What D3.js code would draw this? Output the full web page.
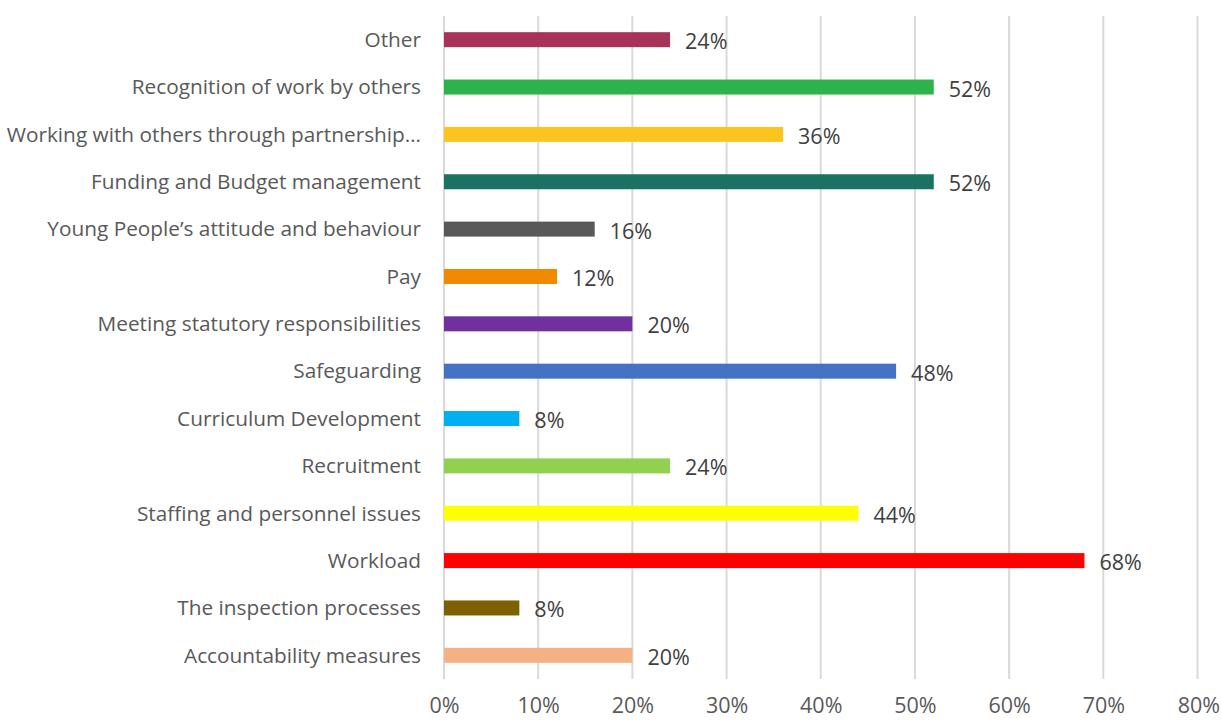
<!DOCTYPE html>
<html><head><meta charset="utf-8">
<script src="https://cdn.jsdelivr.net/npm/d3@7"></script>
<style>
html,body{margin:0;padding:0;background:#fff;}
svg{display:block;}
text{font-family:"Open Sans",sans-serif;}
</style></head>
<body>
<svg id="chart" width="1221" height="720"></svg>
<script>
const categories = [
  "Other",
  "Recognition of work by others",
  "Working with others through partnership…",
  "Funding and Budget management",
  "Young People’s attitude and behaviour",
  "Pay",
  "Meeting statutory responsibilities",
  "Safeguarding",
  "Curriculum Development",
  "Recruitment",
  "Staffing and personnel issues",
  "Workload",
  "The inspection processes",
  "Accountability measures"
];
const values = [24, 52, 36, 52, 16, 12, 20, 48, 8, 24, 44, 68, 8, 20];
const colors = ["#A8335A","#2EB34B","#FBC41E","#1C7262","#595959","#F08A00","#7030A0",
                "#4472C4","#00B0F0","#92D050","#FFFF00","#FF0000","#7F6000","#F4B183"];
const xTicks = [0,10,20,30,40,50,60,70,80];

(function(){
const svg = d3.select("#chart");
const FONT = "'Open Sans', sans-serif";
const FS_CAT = 20.8, FS_NUM = 21.5;
const pLeft = 444, pRight = 1197.5, pTop = 16, pBottom = 679;
const x = d3.scaleLinear().domain([0,80]).range([pLeft,pRight]);
const p = 1 - 15/((pBottom-pTop)/categories.length);
const y = d3.scaleBand().domain(categories).range([pTop,pBottom]).paddingInner(p).paddingOuter(p/2);

svg.append("g").selectAll("line").data(xTicks).join("line")
  .attr("x1", d=>x(d)).attr("x2", d=>x(d))
  .attr("y1", pTop).attr("y2", pBottom)
  .attr("stroke", "#d9d9d9").attr("stroke-width", 2);

const xAxis = d3.axisBottom(x).tickValues(xTicks).tickFormat(d=>d+"%").tickSize(0).tickPadding(0);
const gx = svg.append("g").attr("transform", `translate(0,${pBottom})`).call(xAxis);
gx.select(".domain").remove();
gx.selectAll("text").attr("font-size", FS_NUM).attr("fill", "#595959")
  .attr("y", 34).attr("dy", null).attr("font-family", FONT);
gx.selectAll(".tick").filter(d=>d===80).select("text").attr("text-anchor", "end").attr("x", 22);

const yAxis = d3.axisLeft(y).tickSize(0).tickPadding(0);
const gy = svg.append("g").attr("transform", `translate(421,0)`).call(yAxis);
gy.select(".domain").remove();
gy.selectAll("text").attr("font-size", FS_CAT).attr("fill", "#595959")
  .attr("dy", "0.35em").attr("font-family", FONT);

svg.append("g").selectAll("rect").data(values).join("rect")
  .attr("x", x(0))
  .attr("y", (d,i)=>y(categories[i]))
  .attr("width", d=>x(d)-x(0))
  .attr("height", y.bandwidth())
  .attr("fill", (d,i)=>colors[i]);

svg.append("g").selectAll("text").data(values).join("text")
  .attr("x", d=>x(d)+15)
  .attr("y", (d,i)=>y(categories[i]) + y.bandwidth()/2 + 2)
  .attr("dy", "0.35em")
  .attr("font-size", FS_NUM).attr("fill", "#404040").attr("font-family", FONT)
  .text(d=>d+"%");
})();
</script>
</body></html>
